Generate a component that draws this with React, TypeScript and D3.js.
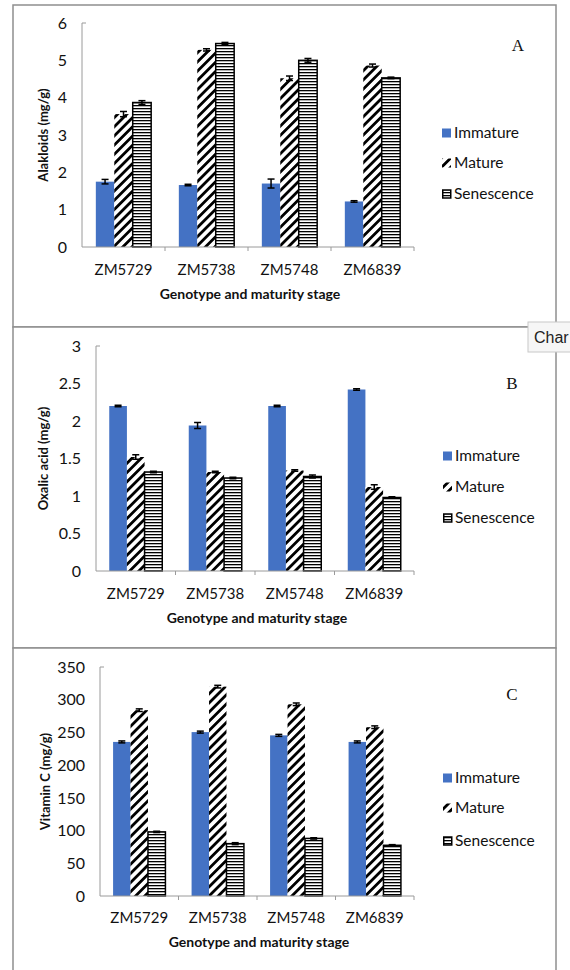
import React from 'react';
import * as d3 from 'd3';

const categories = ['ZM5729', 'ZM5738', 'ZM5748', 'ZM6839'];
const seriesNames = ['Immature', 'Mature', 'Senescence'];

// Panel A – Alkaloids (mg/g)
const alkImmature = [1.75, 1.66, 1.70, 1.22];
const alkMature = [3.56, 5.28, 4.52, 4.86];
const alkSenescence = [3.87, 5.45, 5.0, 4.53];
const alkImmErr = [0.06, 0.02, 0.12, 0.02];
const alkMatErr = [0.07, 0.03, 0.06, 0.04];
const alkSenErr = [0.05, 0.03, 0.05, 0.02];
const alkTicks = [0, 1, 2, 3, 4, 5, 6];

// Panel B – Oxalic acid (mg/g)
const oxImmature = [2.2, 1.94, 2.2, 2.42];
const oxMature = [1.52, 1.32, 1.34, 1.12];
const oxSenescence = [1.32, 1.24, 1.26, 0.98];
const oxImmErr = [0.01, 0.04, 0.01, 0.01];
const oxMatErr = [0.03, 0.01, 0.01, 0.03];
const oxSenErr = [0.01, 0.01, 0.02, 0.01];
const oxTicks = [0, 0.5, 1, 1.5, 2, 2.5, 3];

// Panel C – Vitamin C (mg/g)
const vcImmature = [235.5, 250.5, 245.5, 235.5];
const vcMature = [284, 320, 293, 258];
const vcSenescence = [98, 80, 88, 77.5];
const vcImmErr = [1.5, 1.5, 1.5, 1.5];
const vcMatErr = [2, 2, 2, 2];
const vcSenErr = [1, 1.5, 1, 1];
const vcTicks = [0, 50, 100, 150, 200, 250, 300, 350];

const xTitle = 'Genotype and maturity stage';

const panels = [
  {
    letter: 'A', yTitle: 'Alakloids (mg/g)', ticks: alkTicks,
    values: [alkImmature, alkMature, alkSenescence], errors: [alkImmErr, alkMatErr, alkSenErr],
    box: [5, 327], axisX: 82, yTop: 23, yBottom: 247, catY: 275, titleY: 299, yTitleX: 43,
    letterPos: [518, 51], legendY: [133, 163, 194], legendX: 442,
  },
  {
    letter: 'B', yTitle: 'Oxalic acid (mg/g)', ticks: oxTicks,
    values: [oxImmature, oxMature, oxSenescence], errors: [oxImmErr, oxMatErr, oxSenErr],
    box: [327, 648], axisX: 96, yTop: 346, yBottom: 571, catY: 599, titleY: 623, yTitleX: 43,
    letterPos: [512, 389], legendY: [456, 487, 518], legendX: 443,
  },
  {
    letter: 'C', yTitle: 'Vitamin C (mg/g)', ticks: vcTicks,
    values: [vcImmature, vcMature, vcSenescence], errors: [vcImmErr, vcMatErr, vcSenErr],
    box: [648, 980], axisX: 100, yTop: 667, yBottom: 896, catY: 923, titleY: 947, yTitleX: 45,
    letterPos: [512, 700], legendY: [778, 808, 841], legendX: 443,
  },
];

const FONT = 'Lato, "Open Sans", sans-serif';
const BLUE = '#4472C4';
const AXIS = '#9a9a9a';
const X_END = 414;

function fillFor(i: number) {
  if (i === 0) return BLUE;
  if (i === 1) return 'url(#diag)';
  return 'url(#horiz)';
}

function Panel({ p }: { p: any }) {
  const y = d3.scaleLinear().domain([0, p.ticks[p.ticks.length - 1]]).range([p.yBottom, p.yTop]);
  const x0 = d3.scaleBand<string>().domain(categories).range([p.axisX, X_END]).paddingInner(0).paddingOuter(0);
  const cw = x0.bandwidth();
  const bw = cw / 4.5;
  const x1 = d3.scaleBand<string>().domain(seriesNames).range([0, bw * 3]).padding(0);
  const groupOffset = (cw - bw * 3) / 2;

  return (
    <g>
      <rect x={13} y={p.box[0]} width={543} height={p.box[1] - p.box[0]} fill="white" stroke="#8f8f8f" strokeWidth={1.5} />
      {p.ticks.map((t: number) => (
        <text key={t} x={p.axisX - 15} y={y(t)} dy="0.36em" textAnchor="end" fontFamily={FONT} fontSize={16} fill="#111">
          {String(t)}
        </text>
      ))}
      {categories.map((c, ci) =>
        seriesNames.map((s, si) => {
          const v = p.values[si][ci];
          const bx = (x0(c) as number) + groupOffset + (x1(s) as number);
          const by = y(v);
          const h = p.yBottom - by;
          return (
            <rect key={c + s} x={bx} y={by} width={x1.bandwidth()} height={h} fill={fillFor(si)}
              stroke={si === 2 ? '#000' : 'none'} strokeWidth={si === 2 ? 1.5 : 0} />
          );
        })
      )}
      {categories.map((c, ci) =>
        seriesNames.map((s, si) => {
          const v = p.values[si][ci];
          const e = p.errors[si][ci];
          const cx = (x0(c) as number) + groupOffset + (x1(s) as number) + x1.bandwidth() / 2;
          const y1 = y(v + e);
          const y2 = y(v - e);
          return (
            <g key={'e' + c + s} stroke="#000" strokeWidth={1.5}>
              <line x1={cx} x2={cx} y1={y1} y2={y2} />
              <line x1={cx - 3.5} x2={cx + 3.5} y1={y1} y2={y1} />
              <line x1={cx - 3.5} x2={cx + 3.5} y1={y2} y2={y2} />
            </g>
          );
        })
      )}
      <line x1={p.axisX} x2={p.axisX} y1={p.yTop} y2={p.yBottom} stroke={AXIS} strokeWidth={1} />
      <line x1={p.axisX} x2={p.axisX + 4} y1={p.yTop} y2={p.yTop} stroke={AXIS} strokeWidth={1} />
      <line x1={p.axisX} x2={X_END} y1={p.yBottom} y2={p.yBottom} stroke={AXIS} strokeWidth={1} />
      {categories.map((c) => {
        const tx = (x0(c) as number) + cw;
        return <line key={'t' + c} x1={tx} x2={tx} y1={p.yBottom} y2={p.yBottom + 4} stroke={AXIS} strokeWidth={1} />;
      })}
      {categories.map((c) => (
        <text key={'l' + c} x={(x0(c) as number) + cw / 2} y={p.catY} textAnchor="middle" fontFamily={FONT} fontSize={15} fill="#111">
          {c}
        </text>
      ))}
      <text x={(p.axisX + X_END) / 2 + 2} y={p.titleY} textAnchor="middle" fontFamily={FONT} fontSize={14} fontWeight="bold" fill="#111">
        {xTitle}
      </text>
      <text transform={`translate(${p.yTitleX},${(p.yTop + p.yBottom) / 2}) rotate(-90)`} textAnchor="middle" dy="0.35em"
        fontFamily={FONT} fontSize={13} fontWeight="bold" fill="#111">
        {p.yTitle}
      </text>
      <text x={p.letterPos[0]} y={p.letterPos[1]} textAnchor="middle" fontFamily='"Liberation Serif", "DejaVu Serif", serif' fontSize={17} fill="#111">
        {p.letter}
      </text>
      {seriesNames.map((s, si) => (
        <g key={'lg' + s}>
          {si === 0 && <rect x={p.legendX} y={p.legendY[si] - 4.5} width={9} height={9} fill={BLUE} />}
          {si === 1 && <rect x={p.legendX} y={p.legendY[si] - 4.5} width={9} height={9} fill="url(#diag)" />}
          {si === 2 && <rect x={p.legendX + 0.75} y={p.legendY[si] - 4} width={8} height={8} fill="url(#horiz)" stroke="#000" strokeWidth={1.5} />}
          <text x={p.legendX + 12} y={p.legendY[si]} dy="0.35em" fontFamily={FONT} fontSize={15.5} fill="#111">
            {s}
          </text>
        </g>
      ))}
    </g>
  );
}

export default function App() {
  return (
    <svg width={570} height={970} style={{ position: 'absolute', left: 0, top: 0, background: 'white' }}>
      <defs>
        <pattern id="diag" patternUnits="userSpaceOnUse" width={6.5} height={6.5} patternTransform="rotate(45)">
          <rect x={0} y={0} width={6.5} height={6.5} fill="white" />
          <rect x={0} y={0} width={2.8} height={6.5} fill="black" />
        </pattern>
        <pattern id="horiz" patternUnits="userSpaceOnUse" width={6} height={3}>
          <rect x={0} y={0} width={6} height={3} fill="white" />
          <rect x={0} y={0} width={6} height={1.3} fill="black" />
        </pattern>
      </defs>
      <rect x={0} y={0} width={570} height={970} fill="white" />
      {panels.map((p) => (
        <Panel key={p.letter} p={p} />
      ))}
      <g>
        <rect x={528} y={322} width={50} height={30} fill="#f6f6f6" stroke="#c8c8c8" strokeWidth={1} />
        <text x={534} y={343} fontFamily='"Liberation Sans", Arial, sans-serif' fontSize={16} fill="#222">Char</text>
      </g>
    </svg>
  );
}
